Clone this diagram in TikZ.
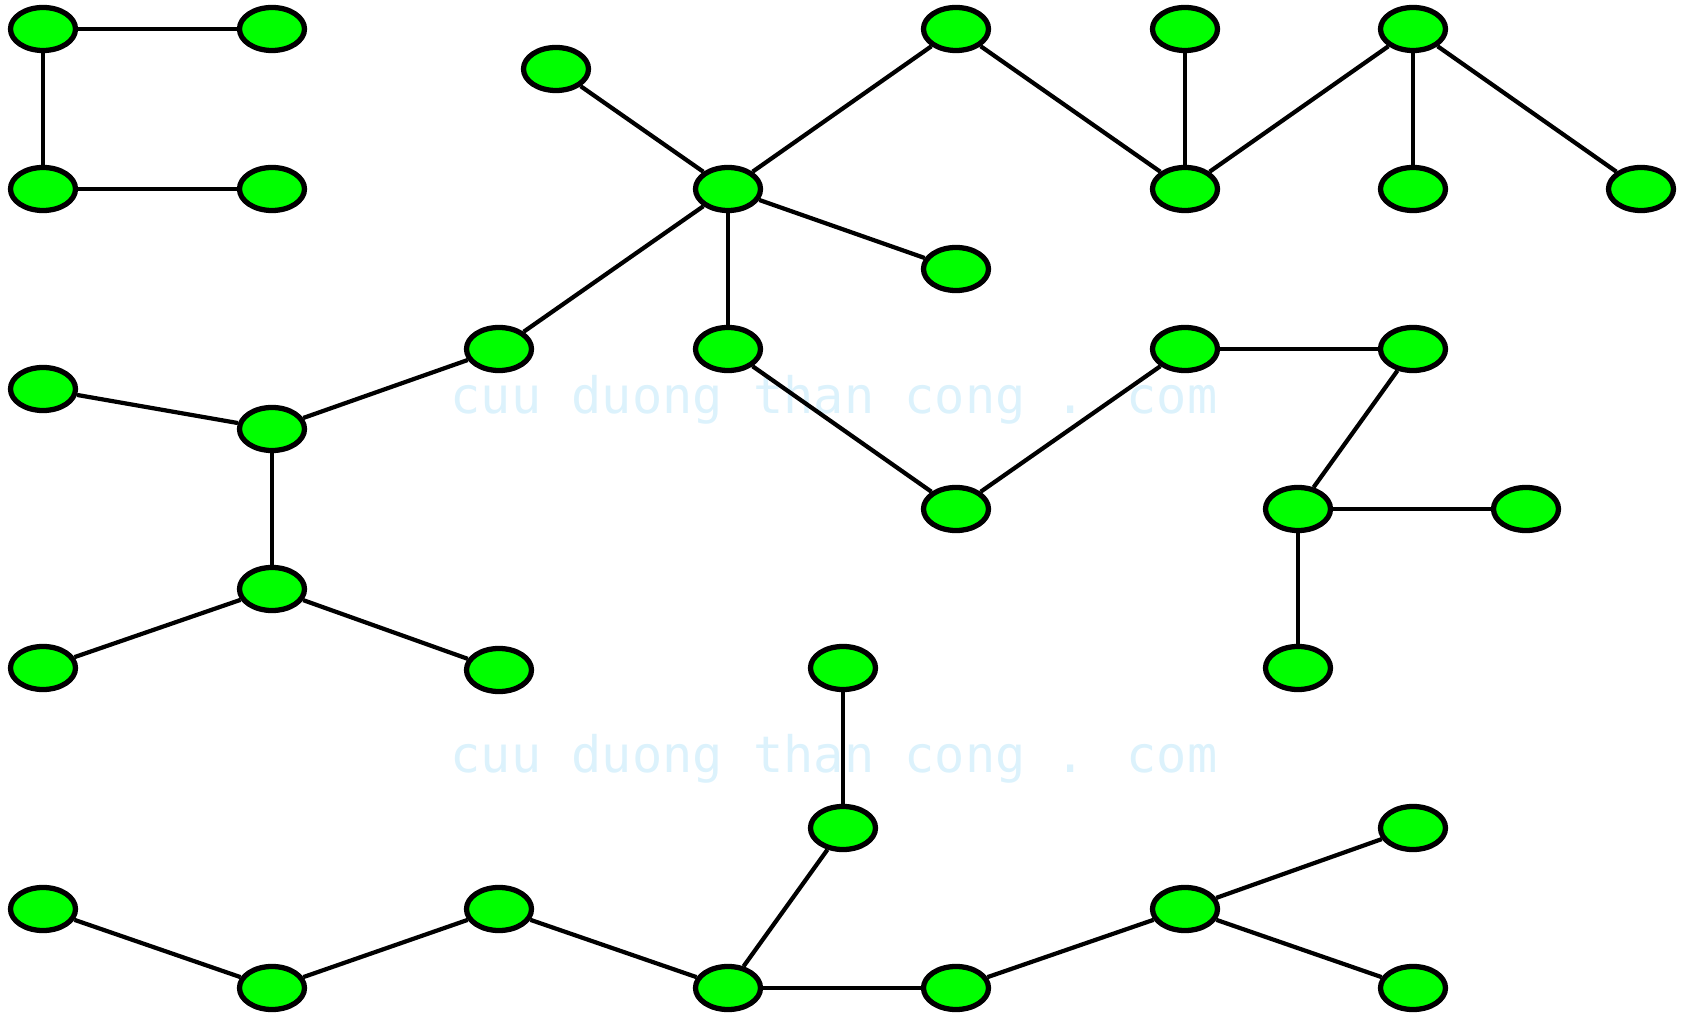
\documentclass[tikz,border=0pt]{standalone}
\usepackage{fontspec}
\newfontfamily\wmfont{DejaVu Sans Mono}
\usetikzlibrary{shapes.geometric}
\definecolor{vertgreen}{RGB}{0,255,0}
\definecolor{wmblue}{RGB}{220,242,252}
\tikzset{
 vertex/.style={draw,ellipse,fill=vertgreen,line width=1.5pt,minimum width=0.65cm,minimum height=0.43cm,inner sep=0pt},
 edge/.style={line width=1.2pt},
 watermark/.style={text=wmblue,font=\wmfont\fontsize{14.3}{17}\selectfont}
}

\begin{document}
\begin{tikzpicture}[x=0.01cm,y=-0.01cm]
\useasboundingbox (0,0) rectangle (1684,1013);
\node[watermark] (wm1) at (834,400) {cuu duong than cong . com};
\node[watermark] (wm2) at (834,759) {cuu duong than cong . com};
% first component
\node[vertex] (p1) at (43,29) {};
\node[vertex] (p2) at (272,29) {};
\node[vertex] (p3) at (43,189) {};
\node[vertex] (p4) at (272,189) {};
\draw[edge] (p1) -- (p2);
\draw[edge] (p1) -- (p3);
\draw[edge] (p3) -- (p4);
% big tree
\node[vertex] (t1) at (556,69) {};
\node[vertex] (t2) at (956,29) {};
\node[vertex] (t3) at (728,189) {};
\node[vertex] (t4) at (956,269) {};
\node[vertex] (t5) at (499,349) {};
\node[vertex] (t6) at (728,349) {};
\node[vertex] (t7) at (1185,29) {};
\node[vertex] (t8) at (1185,189) {};
\node[vertex] (t9) at (1413,29) {};
\node[vertex] (t10) at (1413,189) {};
\node[vertex] (t11) at (1641,189) {};
\node[vertex] (t12) at (43,389) {};
\node[vertex] (t13) at (272,429) {};
\node[vertex] (t14) at (272,589) {};
\node[vertex] (t15) at (43,668) {};
\node[vertex] (t16) at (499,670) {};
\node[vertex] (t17) at (956,509) {};
\node[vertex] (t18) at (1185,349) {};
\node[vertex] (t19) at (1413,349) {};
\node[vertex] (t20) at (1298,509) {};
\node[vertex] (t21) at (1526,509) {};
\node[vertex] (t22) at (1298,668) {};
\foreach \a/\b in {t1/t3,t3/t2,t2/t8,t7/t8,t8/t9,t9/t10,t9/t11,t3/t4,t3/t6,t3/t5,
  t5/t13,t12/t13,t13/t14,t14/t15,t14/t16,t6/t17,t17/t18,t18/t19,t19/t20,t20/t21,t20/t22}
  \draw[edge] (\a) -- (\b);
% bottom tree
\node[vertex] (s1) at (843,668) {};
\node[vertex] (s2) at (843,828) {};
\node[vertex] (s3) at (43,909) {};
\node[vertex] (s4) at (272,988) {};
\node[vertex] (s5) at (499,909) {};
\node[vertex] (s6) at (728,988) {};
\node[vertex] (s7) at (956,988) {};
\node[vertex] (s8) at (1185,909) {};
\node[vertex] (s9) at (1413,828) {};
\node[vertex] (s10) at (1413,988) {};
\foreach \a/\b in {s1/s2,s2/s6,s3/s4,s4/s5,s5/s6,s6/s7,s7/s8,s8/s9,s8/s10}
  \draw[edge] (\a) -- (\b);
\end{tikzpicture}
\end{document}
